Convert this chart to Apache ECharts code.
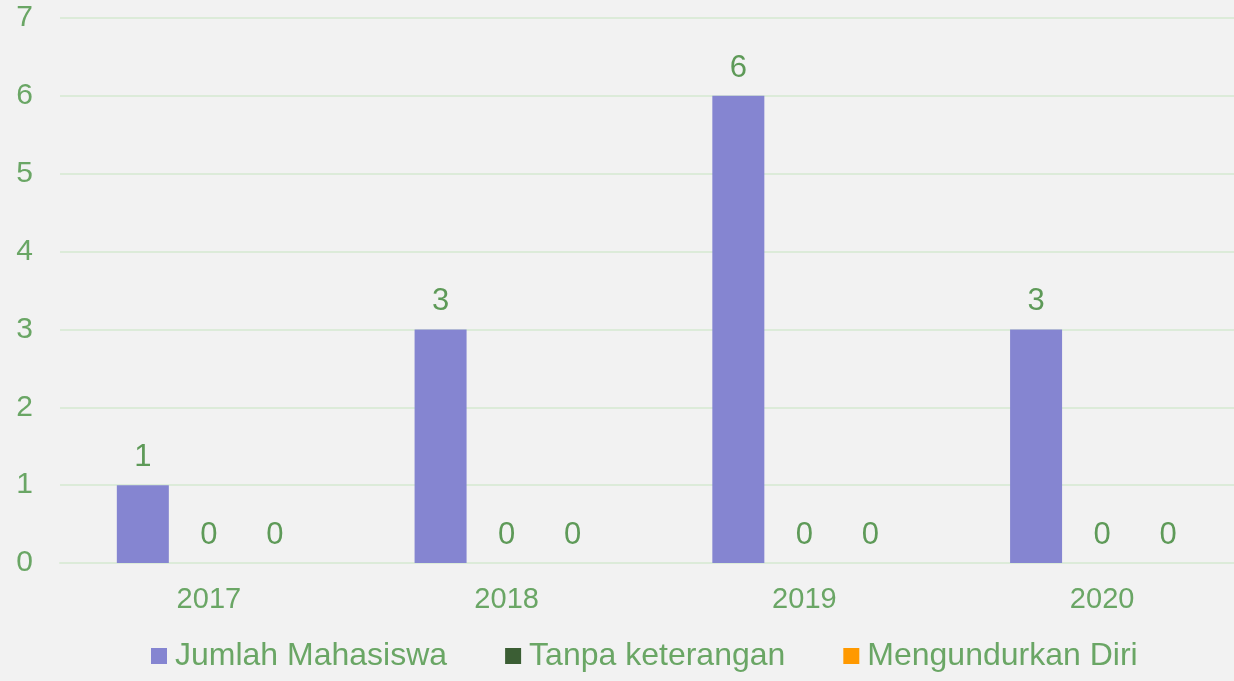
<!DOCTYPE html>
<html>
<head>
<meta charset="utf-8">
<script src="https://cdn.jsdelivr.net/npm/echarts@6/dist/echarts.min.js"></script>
<style>
  html, body { margin: 0; padding: 0; background: #f2f2f2; overflow: hidden; }
  #wrap { width: 1234px; height: 681px; overflow: hidden; }
  /* plot runs slightly past the right edge, so the canvas is wider than the frame */
  #chart { width: 1251px; height: 681px; }
</style>
</head>
<body>
<div id="wrap"><div id="chart"></div></div>
<script>
// Students per intake year, with those leaving without notice or withdrawing
const years = ['2017', '2018', '2019', '2020'];
const jumlahMahasiswa = [1, 3, 6, 3];
const tanpaKeterangan = [0, 0, 0, 0];
const mengundurkanDiri = [0, 0, 0, 0];
const yTicks = { min: 0, max: 7, interval: 1 };

const textGreen = '#6aa665';
const labelGreen = '#5e9a58';
const font = 'Liberation Sans, Arial, sans-serif';

const label = {
  show: true,
  position: 'top',
  distance: 12,
  color: labelGreen,
  fontSize: 31,
  fontFamily: font
};

const chart = echarts.init(document.getElementById('chart'), null, { renderer: 'canvas' });
chart.setOption({
  backgroundColor: '#f2f2f2',
  animation: false,
  grid: { left: 60, right: 0, top: 18, bottom: 118, containLabel: false },
  legend: {
    bottom: 9,
    left: 151,
    padding: 0,
    itemWidth: 16,
    itemHeight: 16,
    itemGap: 58,
    icon: 'rect',
    textStyle: { color: textGreen, fontSize: 32, fontFamily: font, padding: [0, 0, 0, 3] },
    data: ['Jumlah Mahasiswa', 'Tanpa keterangan', 'Mengundurkan Diri']
  },
  xAxis: {
    type: 'category',
    data: years,
    axisLine: { show: true, lineStyle: { color: '#dcebd9', width: 2 } },
    axisTick: { show: false },
    axisLabel: { color: textGreen, fontSize: 29, fontFamily: font, margin: 22 }
  },
  yAxis: {
    type: 'value',
    min: yTicks.min,
    max: yTicks.max,
    interval: yTicks.interval,
    axisLine: { show: false },
    axisTick: { show: false },
    splitLine: { lineStyle: { color: '#dcebd9', width: 2 } },
    axisLabel: { color: textGreen, fontSize: 30, fontFamily: font, margin: 27 }
  },
  series: [
    {
      name: 'Jumlah Mahasiswa',
      type: 'bar',
      data: jumlahMahasiswa,
      barWidth: 52,
      barGap: '27%',
      itemStyle: { color: '#8585d1' },
      label: label
    },
    {
      name: 'Tanpa keterangan',
      type: 'bar',
      data: tanpaKeterangan,
      barWidth: 52,
      barGap: '27%',
      itemStyle: { color: '#3b5e34' },
      label: label
    },
    {
      name: 'Mengundurkan Diri',
      type: 'bar',
      data: mengundurkanDiri,
      barWidth: 52,
      barGap: '27%',
      itemStyle: { color: '#ff9900' },
      label: label
    }
  ]
});
</script>
</body>
</html>
